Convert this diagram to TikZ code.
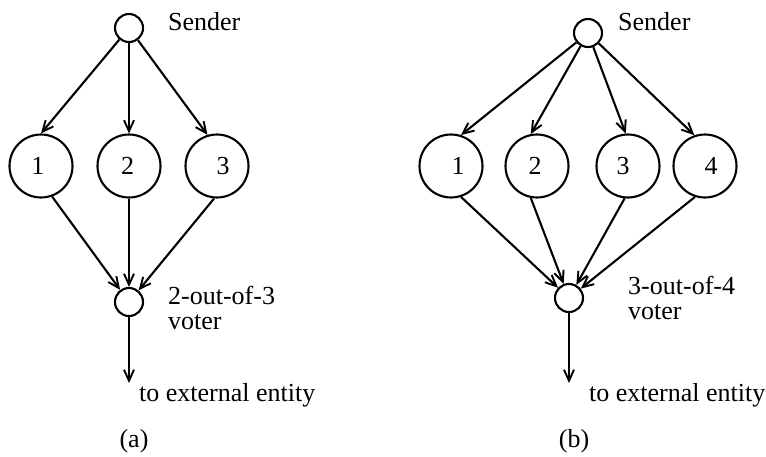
\documentclass[tikz,border=0pt]{standalone}
\usepackage{fontspec}
\setmainfont{Liberation Serif}
\usetikzlibrary{arrows.meta}
\newcommand{\dshift}[2]{\kern#1pt #2}
\begin{document}
\begin{tikzpicture}[x=1pt,y=-1pt,
  every node/.style={font=\fontsize{26}{25}\selectfont},
  proc/.style={draw,circle,line width=2.1pt,minimum size=63pt,inner sep=0pt},
  small/.style={draw,circle,line width=2.1pt,minimum size=28pt,inner sep=0pt},
  lbl/.style={inner sep=0pt,anchor=base west},
  captxt/.style={inner sep=0pt,anchor=base},
  conn/.style={line width=2.1pt,-{Straight Barb[length=11pt,width=10pt,line width=1.9pt]}}]
\useasboundingbox (0,0) rectangle (766,456);
% ---------- (a)
\node[small] (sa) at (129,28) {};
\node[lbl] (sat) at (168,30) {Sender};
\node[proc] (a1) at (41,166) {\dshift{-6}{1}};
\node[proc] (a2) at (129,166) {\dshift{-3}{2}};
\node[proc] (a3) at (217,166) {\dshift{12}{3}};
\node[small] (va) at (129,302) {};
\node[inner sep=0pt,anchor=west,align=left] (vat) at (168,307.5) {2-out-of-3\\voter};
\coordinate (oa) at (129,383);
\node[lbl] (ea) at (139,401) {to external entity};
\node[captxt] (capa) at (134,447) {(a)};
\draw[conn] (sa) -- (a1.90);
\draw[conn] (sa) -- (a2.90);
\draw[conn] (sa) -- (a3.107);
\draw[conn] (a1.-70) -- (va);
\draw[conn] (a2.-90) -- (va);
\draw[conn] (a3.-95) -- (va);
\draw[conn] (va) -- (oa);
% ---------- (b)
\node[small] (sb) at (588,33) {};
\node[lbl] (sbt) at (618,30) {Sender};
\node[proc] (b1) at (451,166) {\dshift{14}{1}};
\node[proc] (b2) at (537,166) {\dshift{-4}{2}};
\node[proc] (b3) at (628,166) {\dshift{-10}{3}};
\node[proc] (b4) at (705,166) {\dshift{12}{4}};
\node[small] (vb) at (569,298) {};
\node[inner sep=0pt,anchor=west,align=left] (vbt) at (628,298) {3-out-of-4\\voter};
\coordinate (ob) at (569,383);
\node[lbl] (eb) at (589,401) {to external entity};
\node[captxt] (capb) at (574,447) {(b)};
\draw[conn] (sb) -- (b1.72);
\draw[conn] (sb) -- (b2.101);
\draw[conn] (sb) -- (b3.94);
\draw[conn] (sb) -- (b4.109);
\draw[conn] (b1.-72) -- (vb);
\draw[conn] (b2.-101) -- (vb);
\draw[conn] (b3.-96) -- (vb);
\draw[conn] (b4.-108) -- (vb);
\draw[conn] (vb) -- (ob);
\end{tikzpicture}
\end{document}
